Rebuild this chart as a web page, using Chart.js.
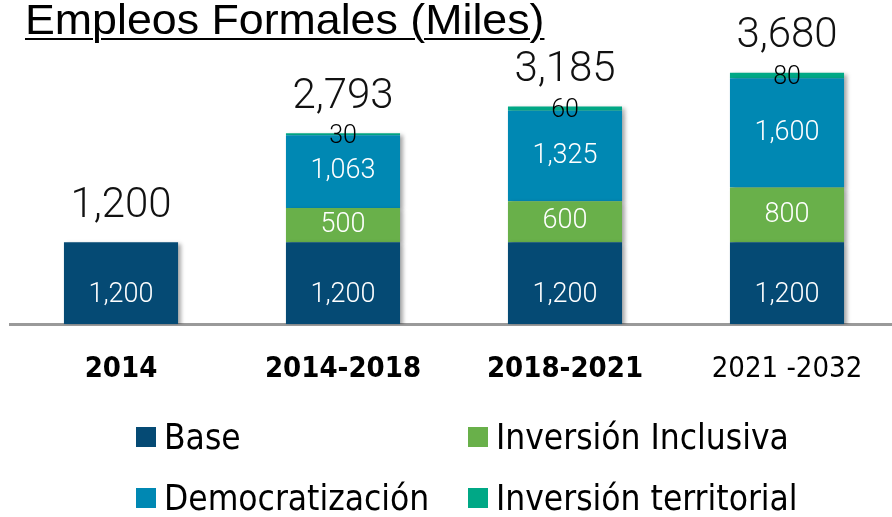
<!DOCTYPE html>
<html>
<head>
<meta charset="utf-8">
<script src="https://cdn.jsdelivr.net/npm/chart.js@4/dist/chart.umd.min.js"></script>
<style>
  html, body { margin: 0; padding: 0; background: #fff; overflow: hidden; }
  #wrap { position: relative; width: 892px; height: 517px; overflow: hidden; }
  #chart { position: absolute; left: 0; top: 0; }
  #title {
    position: absolute; left: 25px; top: -4px;
    font-family: "Liberation Sans", Arial, sans-serif; font-size: 42px;
    color: #000; text-decoration: underline; text-decoration-thickness: 2px;
    text-underline-offset: 4px; transform: scaleX(1.065); transform-origin: left top;
    white-space: nowrap;
  }
  #legend { position: absolute; left: 0; top: 0; width: 892px; height: 517px; pointer-events: none; }
  .lg { position: absolute; display: flex; align-items: center; white-space: nowrap;
    font-family: "Liberation Sans Narrow", "Arial Narrow", "DejaVu Sans Condensed", sans-serif;
    font-size: 35px; color: #000; }
  .lg span.box { width: 20px; height: 20px; margin-right: 8px; display: inline-block; }
</style>
</head>
<body>
<div id="wrap">
  <canvas id="chart" width="898" height="517"></canvas>
  <div id="title">Empleos Formales (Miles)</div>
  <div id="legend"></div>
</div>
<script>
const categories = ['2014', '2014-2018', '2018-2021', '2021 -2032'];
const baseValues = [1200, 1200, 1200, 1200];
const inclusivaValues = [0, 500, 600, 800];
const democratizacionValues = [0, 1063, 1325, 1600];
const territorialValues = [0, 30, 60, 80];
const totals = [1200, 2793, 3185, 3680];

const seriesNames = ['Base', 'Inversión Inclusiva', 'Democratización', 'Inversión territorial'];
const seriesColors = ['#054a74', '#69b04a', '#0088b3', '#00a886'];

// bold tick labels except the last one
const boldTicks = [true, true, true, false];

function fmt(v) {
  return v.toLocaleString('en-US');
}

// draws numbers inside segments and totals above bars
const labelPlugin = {
  id: 'segLabels',
  afterDatasetsDraw(chart) {
    const ctx = chart.ctx;
    const yScale = chart.scales.y;
    ctx.save();
    ctx.textAlign = 'center';
    ctx.textBaseline = 'middle';
    chart.data.datasets.forEach((ds, di) => {
      const meta = chart.getDatasetMeta(di);
      meta.data.forEach((bar, i) => {
        const v = ds.data[i];
        if (!v) return;
        const mid = (bar.y + bar.base) / 2 + (ds.labelShift || 0);
        ctx.fillStyle = ds.labelColor;
        ctx.font = ds.labelFont;
        ctx.fillText(fmt(v), bar.x, mid);
      });
    });
    // totals
    const meta0 = chart.getDatasetMeta(0);
    ctx.fillStyle = '#111';
    ctx.font = '300 42px Roboto, "Liberation Sans", sans-serif';
    totals.forEach((t, i) => {
      const x = meta0.data[i].x;
      const y = yScale.getPixelForValue(t) - 36;
      ctx.fillText(fmt(t), x, y);
    });
    ctx.restore();
  }
};

// soft drop shadow behind the stacks
const shadowPlugin = {
  id: 'barShadow',
  beforeDatasetsDraw(chart) {
    const ctx = chart.ctx;
    ctx.save();
    ctx.shadowColor = 'rgba(0,0,0,0.35)';
    ctx.shadowBlur = 4;
    ctx.shadowOffsetX = 3;
    ctx.shadowOffsetY = 2;
  },
  afterDatasetsDraw(chart) {
    chart.ctx.restore();
  }
};

const datasets = [baseValues, inclusivaValues, democratizacionValues, territorialValues].map((vals, i) => ({
  label: seriesNames[i],
  data: vals,
  backgroundColor: seriesColors[i],
  borderWidth: 0,
  categoryPercentage: 1,
  barPercentage: 0.514,
  labelColor: i === 3 ? '#000' : '#fff',
  labelFont: i === 3 ? '300 25px Roboto, "Liberation Sans", sans-serif' : '300 27px Roboto, "Liberation Sans", sans-serif',
  labelShift: i === 0 ? 12 : (i === 3 ? 2 : 0)
}));

const chart = new Chart(document.getElementById('chart'), {
  type: 'bar',
  data: { labels: categories, datasets: datasets },
  options: {
    responsive: false,
    animation: false,
    layout: { padding: { left: 10, right: 0, top: 44, bottom: 110 } },
    plugins: {
      legend: { display: false },
      tooltip: { enabled: false }
    },
    scales: {
      x: {
        stacked: true,
        grid: { display: false },
        border: { display: true, color: '#9a9a9a', width: 3 },
        ticks: {
          padding: 20,
          color: '#000',
          font: (c) => ({
            family: '"Liberation Sans Narrow", "Arial Narrow", "DejaVu Sans Condensed", sans-serif',
            size: 29,
            weight: boldTicks[c.index] ? 'bold' : 'normal'
          })
        }
      },
      y: {
        stacked: true,
        display: false,
        min: 0,
        max: 4100
      }
    }
  },
  plugins: [shadowPlugin, labelPlugin]
});

// legend in two columns, built from the chart's datasets
const legendEl = document.getElementById('legend');
const legendSpots = [[136, 437], [468, 437], [136, 498], [468, 498]];
chart.data.datasets.forEach((ds, i) => {
  const item = document.createElement('div');
  item.className = 'lg';
  item.style.left = legendSpots[i][0] + 'px';
  item.style.top = (legendSpots[i][1] - 20) + 'px';
  item.style.height = '40px';
  item.innerHTML = `<span class="box" style="background:${ds.backgroundColor}"></span>${ds.label}`;
  legendEl.appendChild(item);
});
</script>
</body>
</html>
